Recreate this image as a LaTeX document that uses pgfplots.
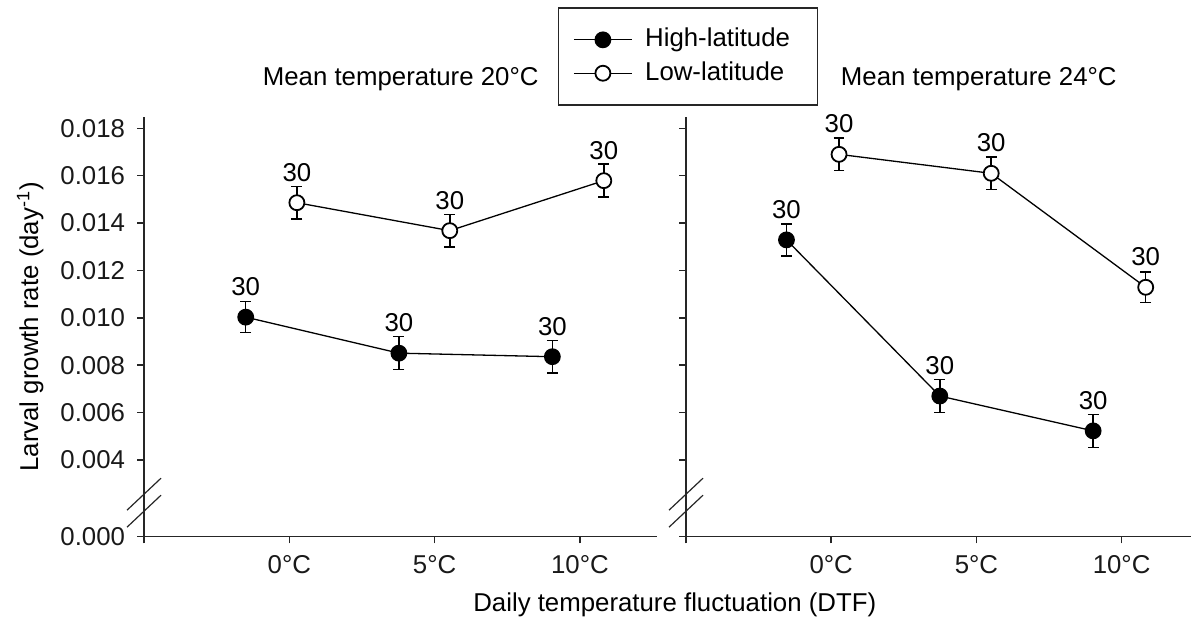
\documentclass[border=0pt]{standalone}
\usepackage{fontspec}
\setmainfont{Liberation Sans}
\usepackage{pgfplots}
\pgfplotsset{compat=1.18}

% shared look of both panels (1 px of the reference = 0.5pt)
\pgfplotsset{
  panel/.style={
    scale only axis, height=209.85pt,
    axis lines=left, axis line style={-, line width=0.75pt, black!85},
    xmin=-5, ymin=0.000764, ymax=0.018477,
    xtick={-5,0,5,10}, xticklabels={,0°C,5°C,10°C},
    ytick={0.000764,0.004,0.006,0.008,0.010,0.012,0.014,0.016,0.018},
    scaled y ticks=false,
    tick align=outside, major tick length=3.3pt,
    tick style={line width=0.75pt, black!85},
    tick label style={inner sep=0pt, black!90},
    xtick pos=bottom, ytick pos=left,
    xticklabel shift=6pt, yticklabel shift=6pt,
    clip=false,
    title style={anchor=base, yshift=9.9pt, inner sep=0pt},
  },
  grp/.style={black, line width=0.65pt, mark=*, mark size=3.75pt,
    mark options={line width=0.9pt, draw=black, fill=#1},
    error bars/y dir=both, error bars/y explicit,
    error bars/error bar style={line width=0.75pt, black},
    error bars/error mark options={rotate=90, mark size=2.7pt, line width=0.75pt, black},
  },
  n30/.style={nodes near coords=30,
    every node near coord/.append style={anchor=center, yshift=15.25pt, black, inner sep=0pt}},
}

\begin{document}
\fontsize{12.9}{15.5}\selectfont
\begin{tikzpicture}
\useasboundingbox (-72pt,-43.65pt) rectangle (524pt,268.35pt);

\begin{axis}[panel, name=L, at={(0pt,0pt)}, width=256.35pt, xmax=12.64,
  yticklabels={0.000,0.004,0.006,0.008,0.010,0.012,0.014,0.016,0.018},
  title={Mean temperature 20°C},
  title style={at={(axis description cs:0.5007,1)}},
  ylabel={Larval growth rate (day\textsuperscript{-1})},
  ylabel style={at={(axis description cs:-0.2067,0.5)}, anchor=base, inner sep=0pt},
  xlabel={Daily temperature fluctuation (DTF)},
  xlabel style={at={(axis description cs:1.0353,0)}, anchor=base, yshift=-37.4pt, inner sep=0pt},
  legend style={at={(axis description cs:0.808,1.261)}, anchor=north west,
    draw=black!85, line width=0.6pt, inner xsep=7.2pt, inner ysep=9.8pt, row sep=4.5pt,
    nodes={inner sep=0pt, text height=9.5pt, text depth=2.7pt},
    /tikz/every odd column/.append style={column sep=6.3pt}},
  legend cell align=left,
  legend image code/.code={\draw[mark repeat=2, mark phase=2, #1]
    plot coordinates {(0pt,0pt) (14.5pt,0pt) (29pt,0pt)};},
]
% High-latitude, 20 C
\addplot[n30, grp=black] coordinates {
  (-1.50,0.01003) +- (0,0.00065)
  (3.77,0.00851)  +- (0,0.00070)
  (9.05,0.00836)  +- (0,0.00068)
};
\addlegendentry{High-latitude\hspace*{6.7pt}}
% Low-latitude, 20 C
\addplot[n30, grp=white] coordinates {
  (0.26,0.01486)  +- (0,0.00068)
  (5.52,0.01368)  +- (0,0.00068)
  (10.82,0.01579) +- (0,0.00070)
};
\addlegendentry{Low-latitude}
\end{axis}

\begin{axis}[panel, name=R, at={(271pt,0pt)}, width=252.5pt, xmax=12.39,
  yticklabels={},
  title={Mean temperature 24°C},
  title style={at={(axis description cs:0.5798,1)}},
]
% High-latitude, 24 C
\addplot[n30, grp=black] coordinates {
  (-1.54,0.01329) +- (0,0.00068)
  (3.74,0.00670)  +- (0,0.00069)
  (9.02,0.00523)  +- (0,0.00070)
};
% Low-latitude, 24 C
\addplot[n30, grp=white] coordinates {
  (0.27,0.01690)  +- (0,0.00068)
  (5.51,0.01610)  +- (0,0.00068)
  (10.83,0.01129) +- (0,0.00065)
};
\end{axis}

% axis breaks
\foreach \n in {L,R} {
  \draw[line width=0.6pt, black!85] ([shift={(-8.5pt,4.75pt)}]\n.south west) -- ++(17pt,16pt);
  \draw[line width=0.6pt, black!85] ([shift={(-8.5pt,13.25pt)}]\n.south west) -- ++(17pt,16pt);
}
\end{tikzpicture}
\end{document}
